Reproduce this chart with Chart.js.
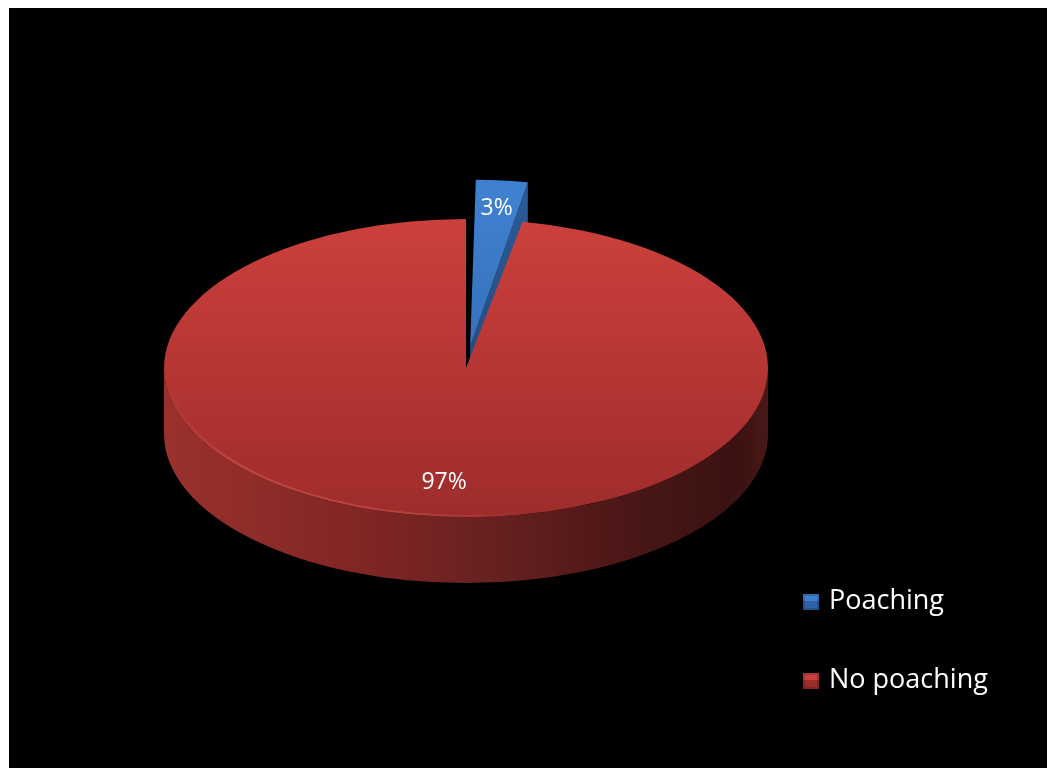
<!DOCTYPE html>
<html>
<head>
<meta charset="utf-8">
<script src="https://cdn.jsdelivr.net/npm/chart.js@4"></script>
<style>
  html, body { margin: 0; padding: 0; background: #fff; }
  #quadro { position: absolute; left: 9px; top: 8px; width: 1038px; height: 760px; background: #000; overflow: hidden; }
  #caixa { position: absolute; left: 0; top: 0; width: 1038px; height: 1000px; }
  #legenda { position: absolute; left: 794px; top: 571px; font-family: "Open Sans", sans-serif; font-size: 27px; color: #fff; }
  .item { position: absolute; left: 0; white-space: nowrap; height: 40px; line-height: 40px; }
  .quad { display: inline-block; width: 16px; height: 16px; margin-right: 10px; vertical-align: -1px; }
</style>
</head>
<body>
<div id="quadro">
  <div id="caixa"><canvas id="grafico"></canvas></div>
  <div id="legenda"></div>
</div>
<script>
const categorias = ["Poaching", "No poaching"];
const valores = [3, 97];
const rotulos = ["3%", "97%"];

// cores: topo (claro/escuro), face lateral
const coresTopo = [["#3f80cf", "#2e63a8"], ["#cc403c", "#9e2c2b"]];
const coresLado = ["#2c5b98", "#23487c"];

const raio = 302;          // raio do círculo antes de achatar
const achatar = 0.4934;    // escala vertical (elipse)
const espessura = 66;      // altura da lateral, em px na tela
const centroTela = { x: 457, y: 360 };

// legenda em html
const legenda = document.getElementById("legenda");
categorias.forEach((nome, i) => {
  const el = document.createElement("div");
  el.className = "item";
  el.style.top = (i * 79) + "px";
  const c = coresTopo[i];
  el.innerHTML = `<span class="quad" style="background:
      linear-gradient(180deg, ${c[0]} 0%, ${c[0]} 45%, ${c[1]} 46%, ${c[1]} 100%);
      box-shadow: inset 0 0 0 2px rgba(0,0,0,0.18);"></span>${nome}`;
  legenda.appendChild(el);
});

function transformar(ctx, arco) {
  ctx.translate(centroTela.x, centroTela.y);
  ctx.scale(1, achatar);
  ctx.translate(-arco.x, -arco.y);
}

// mesma geometria que o ArcElement usa ao desenhar com offset
function geometria(a) {
  const off = (a.options.offset || 0) / 4;
  const meio = (a.startAngle + a.endAngle) / 2;
  const fix = 1 - Math.sin(Math.min(Math.PI, a.circumference));
  const extra = off * fix;
  const R = a.outerRadius + extra;
  const alfa = a.endAngle - a.startAngle;
  const beta = Math.max(0.001, alfa * R - extra / Math.PI) / R;
  const corte = (alfa - beta) / 2;
  return {
    ox: a.x + Math.cos(meio) * off,
    oy: a.y + Math.sin(meio) * off,
    R, meio, off,
    ini: a.startAngle + corte,
    fim: a.endAngle - corte
  };
}

const pizza3d = {
  id: "pizza3d",
  beforeDatasetsDraw(chart) {
    const ctx = chart.ctx;
    const arcos = chart.getDatasetMeta(0).data;
    const ref = arcos[1];
    const T = espessura / achatar;
    ctx.save();
    transformar(ctx, ref);

    // lateral da frente (fatia grande)
    const cx = ref.x, cy = ref.y, R = ref.outerRadius;
    const g = ctx.createLinearGradient(cx - R, 0, cx + R, 0);
    g.addColorStop(0, "#9a312d");
    g.addColorStop(0.3, "#822725");
    g.addColorStop(0.55, "#672020");
    g.addColorStop(0.8, "#461615");
    g.addColorStop(0.95, "#3a1211");
    g.addColorStop(1, "#4a1816");
    ctx.beginPath();
    ctx.arc(cx, cy, R, 0, Math.PI, false);
    ctx.lineTo(cx - R, cy + T);
    ctx.arc(cx, cy + T, R, Math.PI, 0, true);
    ctx.closePath();
    ctx.fillStyle = g;
    ctx.fill();

    // face de corte da fatia destacada
    const b = geometria(arcos[0]);
    const px = b.ox + Math.cos(b.fim) * b.R;
    const py = b.oy + Math.sin(b.fim) * b.R;
    const gb = ctx.createLinearGradient(px, py, b.ox, b.oy + T);
    gb.addColorStop(0, coresLado[0]);
    gb.addColorStop(1, coresLado[1]);
    ctx.beginPath();
    ctx.moveTo(b.ox, b.oy);
    ctx.lineTo(px, py);
    ctx.lineTo(px, py + T);
    ctx.lineTo(b.ox, b.oy + T);
    ctx.closePath();
    ctx.fillStyle = gb;
    ctx.fill();
  },
  afterDatasetsDraw(chart) {
    const ctx = chart.ctx;
    const arcos = chart.getDatasetMeta(0).data;
    const ref = arcos[1];
    // brilho suave na borda da frente, lado esquerdo
    const gl = ctx.createLinearGradient(ref.x - ref.outerRadius, 0, ref.x + ref.outerRadius * 0.2, 0);
    gl.addColorStop(0, "rgba(235,105,95,0)");
    gl.addColorStop(0.2, "rgba(235,105,95,0.35)");
    gl.addColorStop(0.7, "rgba(235,105,95,0.35)");
    gl.addColorStop(1, "rgba(235,105,95,0)");
    ctx.strokeStyle = gl;
    ctx.lineWidth = 2 / achatar;
    ctx.beginPath();
    ctx.arc(ref.x, ref.y, ref.outerRadius - 2, Math.PI * 0.4, Math.PI);
    ctx.stroke();
    ctx.restore();

    // rótulos de percentagem
    const frac = [0.93, 0.77];
    ctx.save();
    ctx.fillStyle = "#fff";
    ctx.font = "23px 'Open Sans', sans-serif";
    ctx.textAlign = "center";
    ctx.textBaseline = "middle";
    arcos.forEach((a, i) => {
      const off = (a.options.offset || 0) / 4;
      const meio = (a.startAngle + a.endAngle) / 2;
      const d = off + frac[i] * a.outerRadius;
      const x = centroTela.x + Math.cos(meio) * d;
      const y = centroTela.y + Math.sin(meio) * d * achatar;
      ctx.fillText(rotulos[i], x, y);
    });
    ctx.restore();
  }
};

new Chart(document.getElementById("grafico"), {
  type: "pie",
  data: {
    labels: categorias,
    datasets: [{
      data: valores,
      borderWidth: 0,
      offset: [176, 0],
      clip: false,
      backgroundColor: (c) => {
        const area = c.chart.chartArea;
        const i = c.dataIndex;
        if (!area) return coresTopo[i][0];
        const cy = (area.top + area.bottom) / 2;
        const g = c.chart.ctx.createLinearGradient(0, cy - raio, 0, cy + raio);
        g.addColorStop(0, coresTopo[i][0]);
        g.addColorStop(1, coresTopo[i][1]);
        return g;
      }
    }]
  },
  options: {
    responsive: true,
    maintainAspectRatio: false,
    animation: false,
    radius: raio,
    layout: { padding: 0 },
    plugins: {
      legend: { display: false },
      tooltip: { enabled: false }
    }
  },
  plugins: [pizza3d]
});
</script>
</body>
</html>
